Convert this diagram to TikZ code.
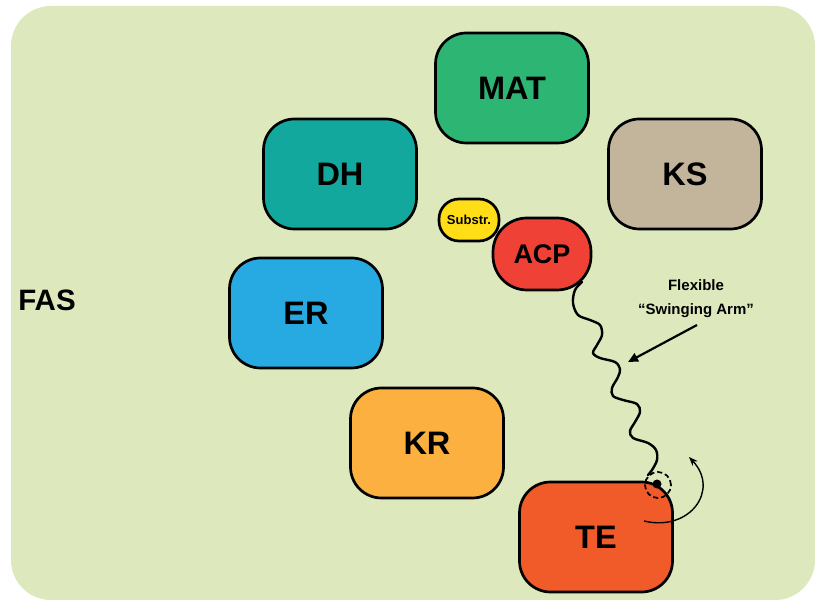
\documentclass[tikz,border=0pt]{standalone}
\usepackage{fontspec}
\setmainfont{Liberation Sans}
\usetikzlibrary{arrows.meta}
\definecolor{bgc}{HTML}{DDE8BD}
\definecolor{matc}{HTML}{2DB673}
\definecolor{dhc}{HTML}{13A89E}
\definecolor{ksc}{HTML}{C2B59B}
\definecolor{erc}{HTML}{27AAE1}
\definecolor{krc}{HTML}{FBB040}
\definecolor{tec}{HTML}{F15A29}
\definecolor{acpc}{HTML}{EF4136}
\definecolor{subc}{HTML}{FFDE17}
\begin{document}
\begin{tikzpicture}[x=1pt,y=-1pt,
  box/.style={draw=black, line width=2.7pt, rounded corners=31pt,
    minimum width=153pt, minimum height=110pt, inner sep=0pt,
    font=\fontsize{32.5}{36}\selectfont\bfseries},
  acpbox/.style={draw=black, line width=2.7pt, rounded corners=34pt,
    minimum width=98pt, minimum height=72pt, inner sep=0pt, fill=acpc,
    font=\fontsize{27}{30}\selectfont\bfseries},
  subbox/.style={draw=black, line width=2.7pt, rounded corners=20pt,
    minimum width=60pt, minimum height=42pt, inner sep=0pt, fill=subc,
    font=\fontsize{13}{15}\selectfont\bfseries},
  lbl/.style={font=\fontsize{15}{18}\selectfont\bfseries, inner sep=0pt},
  arm/.style={line width=2.4pt, line cap=round, line join=round}]
\useasboundingbox (0,0) rectangle (815,601);
\fill[bgc, rounded corners=40pt] (11,6) rectangle (815,600);

\node[lbl, font=\fontsize{29.5}{32}\selectfont\bfseries] (fas) at (47,300) {FAS};

\node[box, fill=matc] (mat) at (512,88) {MAT};
\node[box, fill=dhc] (dh) at (340,174) {DH};
\node[box, fill=ksc] (ks) at (685,174) {KS};
\node[box, fill=erc] (er) at (306,313) {ER};
\node[box, fill=krc] (kr) at (427,443) {KR};
\node[box, fill=tec] (te) at (596,537) {TE};

\node[subbox] (sub) at (469,220) {Substr.};
\node[acpbox] (acp) at (542,254) {ACP};

\node[lbl] (flex) at (696,285) {Flexible};
\node[lbl] (swing) at (696,311) {``Swinging Arm''};

\coordinate (armtop) at (582,282);
\coordinate (armend) at (648,475);
\draw[arm] plot[smooth, tension=0.55] coordinates {(armtop) (575,290) (573,303)
  (578,315) (590,320) (600,325) (602,335) (597,345) (593,353) (600,358)
  (615,362) (620,369) (618,377) (612,388) (613,396) (623,400) (637,404)
  (640,412) (635,422) (630,431) (633,438) (648,443) (656,450) (657,460)
  (652,470) (armend)};

\node[circle, fill=black, inner sep=0pt, minimum size=9pt] (dot) at (657,484) {};
\node[circle, draw=black, dash pattern=on 5pt off 3pt, line width=1.7pt,
  minimum size=26pt, inner sep=0pt] (ring) at (658,485) {};

\coordinate (pointer) at (697,325);
\coordinate (pointtip) at (628,362);
\draw[line width=2.2pt, -{Triangle[length=10pt,width=9pt]}] (pointer) -- (pointtip);

\coordinate (rotstart) at (644,521);
\coordinate (rotend) at (689,457);
\draw[line width=1.4pt, -{Stealth[length=9pt,width=7pt]}]
  (rotstart) .. controls (690,532) and (720,490) .. (rotend);
\end{tikzpicture}
\end{document}
